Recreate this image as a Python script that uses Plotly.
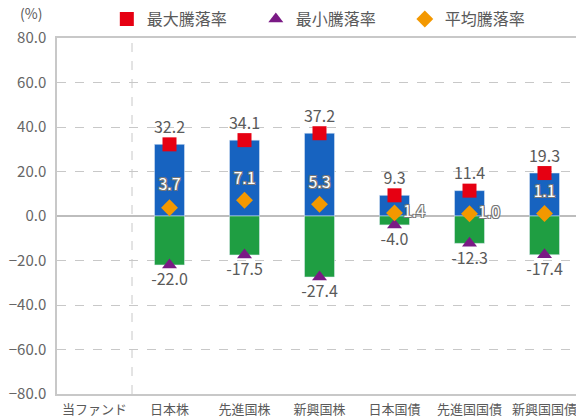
import plotly.graph_objects as go

categories = ["当ファンド", "日本株", "先進国株", "新興国株", "日本国債", "先進国国債", "新興国国債"]
assets = categories[1:]
max_vals = [32.2, 34.1, 37.2, 9.3, 11.4, 19.3]
min_vals = [-22.0, -17.5, -27.4, -4.0, -12.3, -17.4]
avg_vals = [3.7, 7.1, 5.3, 1.4, 1.0, 1.1]
y_ticks = [80, 60, 40, 20, 0, -20, -40, -60, -80]

FONT = "Noto Sans CJK JP"
GRAY = "#5a5a5a"
BLUE = "#1763c0"
GREEN = "#1f9e42"
RED = "#e60012"
PURPLE = "#7a1a85"
ORANGE = "#f39800"
CLEAR = "rgba(0,0,0,0)"

fig = go.Figure()

fig.add_trace(go.Bar(x=assets, y=max_vals, marker_color=BLUE, width=0.4,
                     showlegend=False, hoverinfo="skip"))
fig.add_trace(go.Bar(x=assets, y=min_vals, marker_color=GREEN, width=0.4,
                     showlegend=False, hoverinfo="skip"))

# markers (legend)
fig.add_trace(go.Scatter(x=assets, y=max_vals, mode="markers", name="最大騰落率",
                         marker=dict(symbol="square", size=14, color=RED), hoverinfo="skip"))
fig.add_trace(go.Scatter(x=assets, y=min_vals, mode="markers", name="最小騰落率",
                         marker=dict(symbol="triangle-up", size=13, color=PURPLE), hoverinfo="skip"))
fig.add_trace(go.Scatter(x=assets, y=avg_vals, mode="markers", name="平均騰落率",
                         marker=dict(symbol="diamond", size=13, color=ORANGE), hoverinfo="skip"))

# value labels (invisible markers give the text its offset)
fig.add_trace(go.Scatter(x=assets, y=max_vals, mode="markers+text",
                         marker=dict(size=10, color=CLEAR, opacity=0),
                         text=[f"{v:.1f}" for v in max_vals],
                         textposition="top center",
                         textfont=dict(family=FONT, size=16, color=GRAY),
                         showlegend=False, hoverinfo="skip"))
fig.add_trace(go.Scatter(x=assets, y=min_vals, mode="markers+text",
                         marker=dict(size=12, color=CLEAR, opacity=0),
                         text=[f"{v:.1f}" for v in min_vals],
                         textposition="bottom center",
                         textfont=dict(family=FONT, size=16, color=GRAY),
                         showlegend=False, hoverinfo="skip"))
avg_pos = ["top center", "top center", "top center", "middle right", "middle right", "top center"]
avg_gap = [20, 18, 18, 12, 12, 18]
fig.add_trace(go.Scatter(x=assets, y=avg_vals, mode="markers+text",
                         marker=dict(size=avg_gap, color=CLEAR, opacity=0,
                                     line=dict(width=0)),
                         text=[f"{v:.1f}" for v in avg_vals],
                         textposition=avg_pos,
                         textfont=dict(family=FONT, size=16, color="white",
                                       shadow="-1px -1px 0 #777, 1px -1px 0 #777, -1px 1px 0 #777, 1px 1px 0 #777"),
                         showlegend=False, hoverinfo="skip"))

# keeps the empty first category on the axis
fig.add_trace(go.Scatter(x=categories, y=[None] * len(categories),
                         mode="markers", showlegend=False, hoverinfo="skip"))

fig.update_layout(
    width=576, height=417,
    margin=dict(l=57, r=0, t=38, b=23, autoexpand=False),
    paper_bgcolor="white", plot_bgcolor="white",
    barmode="overlay",
    hovermode=False,
    font=dict(family=FONT, color=GRAY),
    xaxis=dict(type="category", categoryorder="array", categoryarray=categories,
               range=[-0.5, 6.42], ticks="", ticklabelstandoff=3,
               tickfont=dict(family=FONT, size=13, color=GRAY),
               showgrid=False, showline=True, mirror=True, automargin=False,
               linecolor="#c8c8c8", linewidth=1.5, zeroline=False),
    yaxis=dict(range=[-80, 80], tickvals=y_ticks, tickformat=".1f", automargin=False,
               showgrid=True, gridcolor="#c8c8c8", griddash="dash", gridwidth=1,
               zeroline=True, zerolinecolor="#bdbdbd", zerolinewidth=1.5,
               showline=True, linecolor="#c8c8c8", linewidth=1.5,
               ticks="", ticklabelstandoff=6,
               tickfont=dict(family=FONT, size=15, color="#666666")),
    legend=dict(orientation="h", x=0.096, xanchor="left", y=1.053, yanchor="middle",
                font=dict(family=FONT, size=16, color=GRAY),
                entrywidth=104, entrywidthmode="pixels",
                bgcolor="rgba(0,0,0,0)", itemclick=False),
    shapes=[dict(type="line", xref="x", yref="paper", x0=0.5, x1=0.5, y0=0, y1=1,
                 line=dict(color="#c8c8c8", width=1, dash="dash"))],
    annotations=[dict(text="(%)", xref="paper", yref="paper", x=-0.05, y=1.07,
                      xanchor="center", yanchor="middle", showarrow=False,
                      font=dict(family=FONT, size=14, color=GRAY))],
)

fig.write_html("out.html", config={"displayModeBar": False},
               post_script="document.body.style.margin='0';document.body.style.padding='0';")
